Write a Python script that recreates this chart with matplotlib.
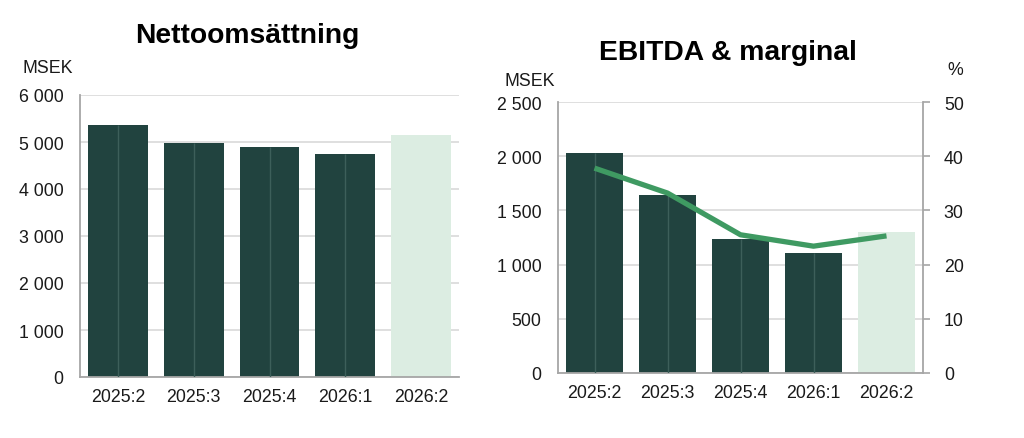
import matplotlib
matplotlib.use("Agg")
import matplotlib.pyplot as plt
import numpy as np

plt.rcParams['font.family'] = ['Liberation Sans', 'DejaVu Sans']

quarters = ["2025:2", "2025:3", "2025:4", "2026:1", "2026:2"]
net_sales = [5370, 4985, 4890, 4740, 5150]
ebitda = [2030, 1640, 1235, 1105, 1305]
margin = [37.8, 33.2, 25.5, 23.4, 25.3]
forecast = [False, False, False, False, True]

left_ticks = [0, 1000, 2000, 3000, 4000, 5000, 6000]
right_ticks = [0, 500, 1000, 1500, 2000, 2500]
pct_ticks = [0, 10, 20, 30, 40, 50]

DARK = "#21433f"
LIGHT = "#dcede2"
MID = "#3d5f5a"
LINE = "#3f9a62"
GRID = "#d9d9d9"
SPINE = "#a6a6a6"
TXT = "#1a1a1a"
FS = 12.8

def fmt(v):
    return f"{v:,}".replace(",", " ")

fig = plt.figure(figsize=(10.24, 4.39), dpi=100)
W, H = 1024, 439

def add_ax(x0, x1, ytop, ybot):
    return fig.add_axes([x0 / W, (H - ybot) / H, (x1 - x0) / W, (ybot - ytop) / H])

def draw_bars(ax, values):
    x = np.arange(len(quarters))
    cols = [LIGHT if f else DARK for f in forecast]
    ax.bar(x, values, width=0.79, color=cols, zorder=2)
    for xi, v, f in zip(x, values, forecast):
        if not f:
            ax.vlines(xi, 0, v, color=MID, linewidth=1.0, zorder=3)
    ax.set_xlim(-0.5, len(quarters) - 0.5)
    ax.set_xticks(x)
    ax.set_xticklabels(quarters, fontsize=FS, color=TXT)
    ax.tick_params(axis='x', length=0, pad=8)
    ax.tick_params(axis='y', length=0, pad=12, labelsize=FS, labelcolor=TXT)
    ax.grid(axis='y', color=GRID, linewidth=1.2, zorder=0)
    ax.set_axisbelow(True)
    for s in ['top', 'right']:
        ax.spines[s].set_visible(False)
    for s in ['left', 'bottom']:
        ax.spines[s].set_color(SPINE)
        ax.spines[s].set_linewidth(1.3)

# Left chart
ax1 = add_ax(80, 459, 96, 378)
draw_bars(ax1, net_sales)
ax1.set_ylim(0, 6000)
ax1.set_yticks(left_ticks)
ax1.set_yticklabels([fmt(v) for v in left_ticks])
fig.text(247 / W, (H - 43) / H, "Nettoomsättning", ha='center', va='baseline',
         fontsize=20.3, fontweight='bold', color='black')
fig.text(22 / W, (H - 73) / H, "MSEK", ha='left', va='baseline', fontsize=FS, color=TXT)

# Right chart
ax2 = add_ax(558, 923, 103, 374)
draw_bars(ax2, ebitda)
ax2.set_ylim(0, 2500)
ax2.set_yticks(right_ticks)
ax2.set_yticklabels([fmt(v) for v in right_ticks])

ax3 = ax2.twinx()
ax3.plot(np.arange(len(quarters)), margin, color=LINE, linewidth=3.8, zorder=5,
         solid_capstyle='butt')
ax3.set_ylim(0, 50)
ax3.set_yticks(pct_ticks)
ax3.tick_params(axis='y', length=5, width=1.2, color=SPINE, pad=10, labelsize=FS, labelcolor=TXT)
for s in ['top', 'left', 'bottom']:
    ax3.spines[s].set_visible(False)
ax3.spines['right'].set_color(SPINE)
ax3.spines['right'].set_linewidth(1.3)

fig.text(728 / W, (H - 60) / H, "EBITDA & marginal", ha='center', va='baseline',
         fontsize=20.3, fontweight='bold', color='black')
fig.text(505 / W, (H - 86) / H, "MSEK", ha='left', va='baseline', fontsize=FS, color=TXT)
fig.text(955 / W, (H - 75) / H, "%", ha='center', va='baseline', fontsize=FS, color=TXT)

fig.savefig("out.png", dpi=100, facecolor='white')
